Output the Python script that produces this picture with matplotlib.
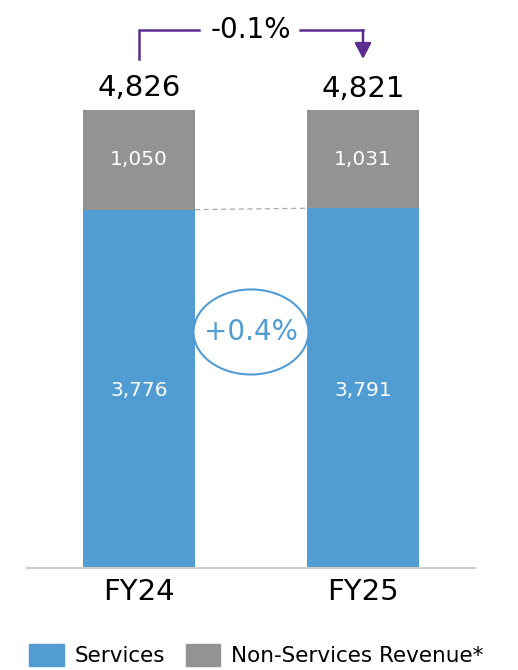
import matplotlib
matplotlib.use("Agg")
import matplotlib.pyplot as plt
from matplotlib.patches import Ellipse, Patch

years = ["FY24", "FY25"]
services = [3776, 3791]
non_services = [1050, 1031]
totals = [4826, 4821]
total_change = "-0.1%"
services_change = "+0.4%"

blue = "#519dd3"
grey = "#939393"
purple = "#5c2d91"

plt.rcParams["font.family"] = ["DejaVu Sans"]

fig = plt.figure(figsize=(5.18, 6.70), dpi=100)
# axes box in pixels: x 27..475, baseline at y=568 from top
ax = fig.add_axes([27 / 518, 102 / 670, 448 / 518, 568 / 670])
ymax = 568 / 458 * totals[0]
ax.set_xlim(-0.5, 1.5)
ax.set_ylim(0, ymax)

x = range(len(years))
ax.bar(x, services, width=0.5, color=blue, zorder=2)
ax.bar(x, non_services, width=0.5, bottom=services, color=grey, zorder=2)

for i in x:
    ax.text(i, services[i] / 2 - 20, f"{services[i]:,}", color="white",
            ha="center", va="center", fontsize=14.5)
    ax.text(i, services[i] + non_services[i] / 2, f"{non_services[i]:,}",
            color="white", ha="center", va="center", fontsize=14.5)
    ax.text(i, totals[i] + 230, f"{totals[i]:,}", color="black",
            ha="center", va="center", fontsize=21)

# dashed link between services tops
ax.plot([0.25, 0.75], [services[0], services[1]], ls=(0, (4, 3)),
        color="#aaaaaa", lw=0.9, zorder=1)

# growth bubble for services
ax.add_patch(Ellipse((0.5, 2487), 0.513, 896, facecolor="white",
                     edgecolor=blue, lw=1.5, zorder=3))
ax.text(0.5, 2487, services_change, color=blue, ha="center", va="center",
        fontsize=20, zorder=4)

# bracket arrow for total change
y_top = ymax - 30 / 458 * totals[0]
y_low = ymax - 59 / 458 * totals[0]
ax.plot([0, 0, 0.27], [y_low, y_top, y_top], color=purple, lw=1.8,
        solid_joinstyle="miter")
ax.annotate("", xy=(1, y_low), xytext=(1, y_top),
            arrowprops=dict(arrowstyle="-|>,head_length=0.95,head_width=0.5",
                            color=purple, lw=1.8, shrinkA=0, shrinkB=0))
ax.plot([0.72, 1], [y_top, y_top], color=purple, lw=1.8)
ax.text(0.5, y_top, total_change, ha="center", va="center", fontsize=20)

for s in ["top", "right", "left"]:
    ax.spines[s].set_visible(False)
ax.spines["bottom"].set_color("#cccccc")
ax.spines["bottom"].set_linewidth(1.5)
ax.set_yticks([])
ax.set_xticks(list(x))
ax.set_xticklabels(years, fontsize=21)
ax.tick_params(axis="x", length=0, pad=7)

handles = [Patch(color=blue, label="Services"),
           Patch(color=grey, label="Non-Services Revenue*")]
fig.legend(handles=handles, loc="lower left", bbox_to_anchor=(0.032, -0.014),
           ncol=2, frameon=False, fontsize=15.5, handlelength=1.58,
           handleheight=1.2, columnspacing=1.0, handletextpad=0.5,
           borderaxespad=0.2)

fig.savefig("out.png", dpi=100)
